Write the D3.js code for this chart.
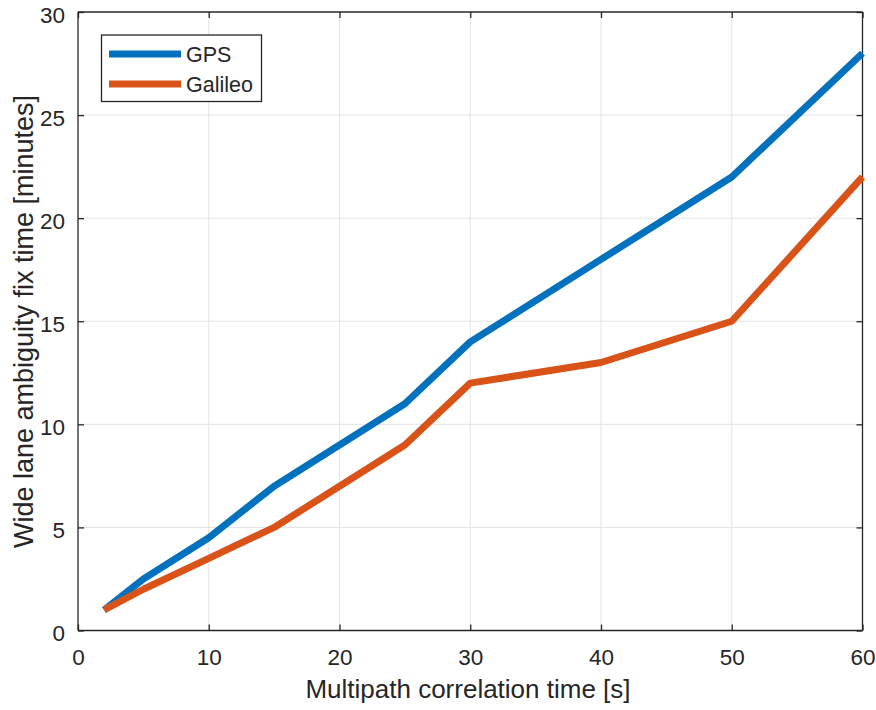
<!DOCTYPE html>
<html><head><meta charset="utf-8">
<script src="https://cdn.jsdelivr.net/npm/d3@7"></script>
<style>body{margin:0;background:#fff;} svg{display:block;} text{font-family:"Liberation Sans",Arial,sans-serif;fill:#262626;}</style>
</head><body>
<svg id="c" width="876" height="710"></svg>
<script>
const xValues = [2, 5, 10, 15, 20, 25, 30, 40, 50, 60];
const gpsValues = [1, 2.5, 4.5, 7, 9, 11, 14, 18, 22, 28];
const galileoValues = [1, 2, 3.5, 5, 7, 9, 12, 13, 15, 22];
const xTicks = [0, 10, 20, 30, 40, 50, 60];
const yTicks = [0, 5, 10, 15, 20, 25, 30];
const seriesNames = ["GPS", "Galileo"];
const seriesColors = ["#0072BD", "#D95319"];

const svg = d3.select("#c");
const L = 78, R = 862.5, T = 12, B = 630.5;
const x = d3.scaleLinear().domain([0, 60]).range([L, R]);
const y = d3.scaleLinear().domain([0, 30]).range([B, T]);

// grid
svg.append("g").selectAll("line").data(xTicks.slice(1, -1)).join("line")
  .attr("x1", d => x(d)).attr("x2", d => x(d)).attr("y1", T).attr("y2", B)
  .attr("stroke", "#e3e3e3").attr("stroke-width", 1);
svg.append("g").selectAll("line").data(yTicks.slice(1, -1)).join("line")
  .attr("y1", d => y(d)).attr("y2", d => y(d)).attr("x1", L).attr("x2", R)
  .attr("stroke", "#e3e3e3").attr("stroke-width", 1);

// axes
const xAxis = svg.append("g").attr("transform", `translate(0,${B})`)
  .call(d3.axisBottom(x).tickValues(xTicks).tickSize(-6).tickPadding(19));
const xAxisTop = svg.append("g").attr("transform", `translate(0,${T})`)
  .call(d3.axisTop(x).tickValues(xTicks).tickSize(-6).tickFormat(""));
const yAxis = svg.append("g").attr("transform", `translate(${L},0)`)
  .call(d3.axisLeft(y).tickValues(yTicks).tickSize(-6).tickPadding(13));
const yAxisR = svg.append("g").attr("transform", `translate(${R},0)`)
  .call(d3.axisRight(y).tickValues(yTicks).tickSize(-6).tickFormat(""));
[xAxis, xAxisTop, yAxis, yAxisR].forEach(g => {
  g.select(".domain").attr("stroke", "#262626").attr("stroke-width", 1.3);
  g.selectAll(".tick line").attr("stroke", "#262626").attr("stroke-width", 1.3);
  g.selectAll(".tick text").attr("font-size", 22.5).attr("font-family", "Liberation Sans, Arial, sans-serif").attr("fill", "#262626");
});
yAxis.selectAll(".tick text").attr("dy", "0.45em");
xAxis.selectAll(".domain").attr("d", `M${L},0H${R}`);
xAxisTop.selectAll(".domain").attr("d", `M${L},0H${R}`);
yAxis.selectAll(".domain").attr("d", `M0,${T}V${B}`);
yAxisR.selectAll(".domain").attr("d", `M0,${T}V${B}`);

// lines
const line = d3.line().x((d, i) => x(xValues[i])).y(d => y(d));
[gpsValues, galileoValues].forEach((vals, i) => {
  svg.append("path").datum(vals).attr("d", line)
    .attr("fill", "none").attr("stroke", seriesColors[i])
    .attr("stroke-width", 7).attr("stroke-linejoin", "round").attr("stroke-linecap", "butt");
});

// axis labels
svg.append("text").attr("x", 468).attr("y", 698).attr("text-anchor", "middle")
  .attr("font-size", 26).text("Multipath correlation time [s]");
svg.append("text").attr("transform", `translate(33,321.5) rotate(-90)`)
  .attr("text-anchor", "middle").attr("font-size", 27).text("Wide lane ambiguity fix time [minutes]");

// legend
const lg = svg.append("g");
lg.append("rect").attr("x", 101.5).attr("y", 35).attr("width", 160).attr("height", 66.5)
  .attr("fill", "#fff").attr("stroke", "#262626").attr("stroke-width", 1.3);
seriesNames.forEach((n, i) => {
  const cy = 54 + i * 30;
  lg.append("line").attr("x1", 109).attr("x2", 181).attr("y1", cy).attr("y2", cy)
    .attr("stroke", seriesColors[i]).attr("stroke-width", 7);
  lg.append("text").attr("x", 186).attr("y", cy + 7.5).attr("font-size", 21.5).text(n);
});
</script>
</body></html>
